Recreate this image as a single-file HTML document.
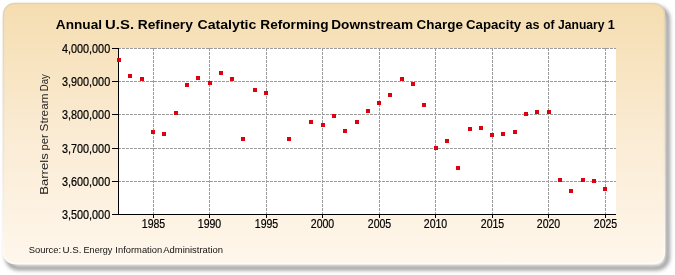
<!DOCTYPE html>
<html><head><meta charset="utf-8"><style>
html,body{margin:0;padding:0;background:#fff;}
svg{display:block;will-change:transform;}
text{font-family:"Liberation Sans",sans-serif;}
</style></head><body>
<svg width="675" height="275" viewBox="0 0 675 275">
<defs>
<linearGradient id="bg" x1="0" y1="0" x2="0" y2="1">
<stop offset="0" stop-color="#F5DDB0"/>
<stop offset="0.5" stop-color="#FAEBD3"/>
<stop offset="1" stop-color="#FFF7EC"/>
</linearGradient>
<linearGradient id="bd" x1="0" y1="0" x2="0" y2="1"><stop offset="0" stop-color="#e2d3b2"/><stop offset="0.6" stop-color="#efe6d6"/><stop offset="1" stop-color="#fffcf7"/></linearGradient>
<filter id="sh" x="-5%" y="-5%" width="110%" height="115%"><feGaussianBlur stdDeviation="2.2"/></filter>
<filter id="sh2" x="-5%" y="-5%" width="110%" height="115%"><feGaussianBlur stdDeviation="0.7"/></filter>
</defs>
<rect x="7.5" y="8" width="660" height="260" rx="11" ry="11" fill="none" stroke="#7a7a7a" stroke-width="3.5" filter="url(#sh)"/>
<rect x="3.5" y="3.5" width="661" height="260" rx="11" ry="11" fill="url(#bg)" stroke="url(#bd)" stroke-width="1.5" filter="url(#sh2)"/>
<rect x="119" y="48" width="497" height="166" fill="#fff"/>
<g stroke="#9c9c9c" stroke-width="1" stroke-dasharray="3 1"><line x1="118" y1="48.5" x2="616" y2="48.5"/><line x1="118" y1="81.5" x2="616" y2="81.5"/><line x1="118" y1="114.5" x2="616" y2="114.5"/><line x1="118" y1="148.5" x2="616" y2="148.5"/><line x1="118" y1="181.5" x2="616" y2="181.5"/><line x1="153.5" y1="48" x2="153.5" y2="214"/><line x1="209.5" y1="48" x2="209.5" y2="214"/><line x1="266.5" y1="48" x2="266.5" y2="214"/><line x1="322.5" y1="48" x2="322.5" y2="214"/><line x1="379.5" y1="48" x2="379.5" y2="214"/><line x1="435.5" y1="48" x2="435.5" y2="214"/><line x1="492.5" y1="48" x2="492.5" y2="214"/><line x1="548.5" y1="48" x2="548.5" y2="214"/><line x1="605.5" y1="48" x2="605.5" y2="214"/></g>
<g stroke="#000" stroke-width="1">
<line x1="118.5" y1="48" x2="118.5" y2="215"/>
<line x1="112" y1="214.5" x2="616" y2="214.5"/>
<line x1="112" y1="48.5" x2="118" y2="48.5"/><line x1="112" y1="81.5" x2="118" y2="81.5"/><line x1="112" y1="114.5" x2="118" y2="114.5"/><line x1="112" y1="148.5" x2="118" y2="148.5"/><line x1="112" y1="181.5" x2="118" y2="181.5"/><line x1="112" y1="214.5" x2="118" y2="214.5"/><line x1="153.5" y1="215" x2="153.5" y2="218"/><line x1="209.5" y1="215" x2="209.5" y2="218"/><line x1="266.5" y1="215" x2="266.5" y2="218"/><line x1="322.5" y1="215" x2="322.5" y2="218"/><line x1="379.5" y1="215" x2="379.5" y2="218"/><line x1="435.5" y1="215" x2="435.5" y2="218"/><line x1="492.5" y1="215" x2="492.5" y2="218"/><line x1="548.5" y1="215" x2="548.5" y2="218"/><line x1="605.5" y1="215" x2="605.5" y2="218"/>
</g>
<g fill="#DD0011"><rect x="117" y="58" width="4" height="4"/><rect x="128" y="74" width="4" height="4"/><rect x="140" y="77" width="4" height="4"/><rect x="151" y="130" width="4" height="4"/><rect x="162" y="132" width="4" height="4"/><rect x="174" y="111" width="4" height="4"/><rect x="185" y="83" width="4" height="4"/><rect x="196" y="76" width="4" height="4"/><rect x="208" y="81" width="4" height="4"/><rect x="219" y="71" width="4" height="4"/><rect x="230" y="77" width="4" height="4"/><rect x="241" y="137" width="4" height="4"/><rect x="253" y="88" width="4" height="4"/><rect x="264" y="91" width="4" height="4"/><rect x="287" y="137" width="4" height="4"/><rect x="309" y="120" width="4" height="4"/><rect x="321" y="123" width="4" height="4"/><rect x="332" y="114" width="4" height="4"/><rect x="343" y="129" width="4" height="4"/><rect x="355" y="120" width="4" height="4"/><rect x="366" y="109" width="4" height="4"/><rect x="377" y="101" width="4" height="4"/><rect x="388" y="93" width="4" height="4"/><rect x="400" y="77" width="4" height="4"/><rect x="411" y="82" width="4" height="4"/><rect x="422" y="103" width="4" height="4"/><rect x="434" y="146" width="4" height="4"/><rect x="445" y="139" width="4" height="4"/><rect x="456" y="166" width="4" height="4"/><rect x="468" y="127" width="4" height="4"/><rect x="479" y="126" width="4" height="4"/><rect x="490" y="133" width="4" height="4"/><rect x="501" y="132" width="4" height="4"/><rect x="513" y="130" width="4" height="4"/><rect x="524" y="112" width="4" height="4"/><rect x="535" y="110" width="4" height="4"/><rect x="547" y="110" width="4" height="4"/><rect x="558" y="178" width="4" height="4"/><rect x="569" y="189" width="4" height="4"/><rect x="581" y="178" width="4" height="4"/><rect x="592" y="179" width="4" height="4"/><rect x="603" y="187" width="4" height="4"/></g>
<g font-size="12" fill="#000" stroke="#000" stroke-width="0.2"><text transform="translate(110.2,52.5) scale(0.905,1)" text-anchor="end">4,000,000</text><text transform="translate(110.2,85.5) scale(0.905,1)" text-anchor="end">3,900,000</text><text transform="translate(110.2,118.5) scale(0.905,1)" text-anchor="end">3,800,000</text><text transform="translate(110.2,152.5) scale(0.905,1)" text-anchor="end">3,700,000</text><text transform="translate(110.2,185.5) scale(0.905,1)" text-anchor="end">3,600,000</text><text transform="translate(110.2,218.5) scale(0.905,1)" text-anchor="end">3,500,000</text><text transform="translate(153.5,227.7) scale(0.88,1)" text-anchor="middle">1985</text><text transform="translate(209.5,227.7) scale(0.88,1)" text-anchor="middle">1990</text><text transform="translate(266.5,227.7) scale(0.88,1)" text-anchor="middle">1995</text><text transform="translate(322.5,227.7) scale(0.88,1)" text-anchor="middle">2000</text><text transform="translate(379.5,227.7) scale(0.88,1)" text-anchor="middle">2005</text><text transform="translate(435.5,227.7) scale(0.88,1)" text-anchor="middle">2010</text><text transform="translate(492.5,227.7) scale(0.88,1)" text-anchor="middle">2015</text><text transform="translate(548.5,227.7) scale(0.88,1)" text-anchor="middle">2020</text><text transform="translate(605.5,227.7) scale(0.88,1)" text-anchor="middle">2025</text></g>
<g font-size="13.5" font-weight="bold" fill="#000"><text x="55.86" y="28.8" textLength="46.20" lengthAdjust="spacingAndGlyphs">Annual</text><text x="105.11" y="28.8" textLength="28.92" lengthAdjust="spacingAndGlyphs">U.S.</text><text x="137.78" y="28.8" textLength="55.10" lengthAdjust="spacingAndGlyphs">Refinery</text><text x="197.42" y="28.8" textLength="59.00" lengthAdjust="spacingAndGlyphs">Catalytic</text><text x="260.29" y="28.8" textLength="68.23" lengthAdjust="spacingAndGlyphs">Reforming</text><text x="331.29" y="28.8" textLength="81.76" lengthAdjust="spacingAndGlyphs">Downstream</text><text x="416.55" y="28.8" textLength="46.31" lengthAdjust="spacingAndGlyphs">Charge</text><text x="465.96" y="28.8" textLength="55.22" lengthAdjust="spacingAndGlyphs">Capacity</text><text x="525.54" y="28.8" textLength="13.98" lengthAdjust="spacingAndGlyphs">as</text><text x="543.24" y="28.8" textLength="11.13" lengthAdjust="spacingAndGlyphs">of</text><text x="558.02" y="28.8" textLength="46.45" lengthAdjust="spacingAndGlyphs">January</text><text x="607.80" y="28.8" textLength="7.06" lengthAdjust="spacingAndGlyphs">1</text></g>
<g font-size="9.4" fill="#111"><text x="28.67" y="253" textLength="32.49" lengthAdjust="spacingAndGlyphs">Source:</text><text x="62.45" y="253" textLength="19.04" lengthAdjust="spacingAndGlyphs">U.S.</text><text x="83.55" y="253" textLength="28.87" lengthAdjust="spacingAndGlyphs">Energy</text><text x="115.34" y="253" textLength="46.88" lengthAdjust="spacingAndGlyphs">Information</text><text x="163.28" y="253" textLength="59.73" lengthAdjust="spacingAndGlyphs">Administration</text></g>
<g font-size="11.5" fill="#222" transform="translate(47.8,0) rotate(-90)"><text x="-91.19" y="0" textLength="17.11" lengthAdjust="spacingAndGlyphs">Day</text><text x="-131.44" y="0" textLength="37.92" lengthAdjust="spacingAndGlyphs">Stream</text><text x="-150.53" y="0" textLength="16.22" lengthAdjust="spacingAndGlyphs">per</text><text x="-194.88" y="0" textLength="41.65" lengthAdjust="spacingAndGlyphs">Barrels</text></g>
</svg>
</body></html>
